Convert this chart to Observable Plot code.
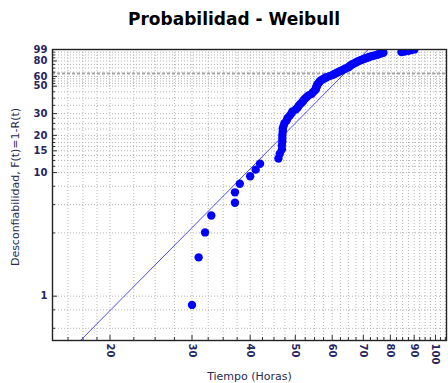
<!DOCTYPE html>
<html>
<head>
<meta charset="utf-8">
<script src="https://cdn.jsdelivr.net/npm/d3@7"></script>
<script src="https://cdn.jsdelivr.net/npm/@observablehq/plot@0.6"></script>
<style>
  html, body { margin: 0; padding: 0; background: #fff; }
  body { width: 448px; height: 383px; overflow: hidden; }
  #title { box-sizing: border-box; height: 40px; padding-top: 11px; padding-left: 20px; width: 448px;
    text-align: center; font-family: "DejaVu Sans", sans-serif; font-weight: bold; font-size: 17px; line-height: 17px; color: #000; }
  #chart svg { display: block; }
</style>
</head>
<body>
<div id="title">Probabilidad - Weibull</div>
<div id="chart"></div>
<script>
// Failure times (hours)
const tiempos = [30.0, 31.0, 32.0, 33.0, 37.1, 37.1, 38.0, 40.0, 41.1, 42.0,
  46.0, 46.3, 46.8, 46.8, 46.9, 46.9, 46.9, 47.0, 47.0, 47.2,
  47.4, 47.9, 48.1, 48.6, 49.0, 49.3, 50.1, 50.6, 50.9, 51.3,
  51.8, 52.1, 52.5, 52.9, 53.4, 54.2, 54.5, 54.9, 55.3, 55.4,
  55.5, 55.7, 55.8, 56.1, 56.4, 56.6, 57.2, 57.8, 58.3, 59.2,
  60.1, 60.7, 61.3, 61.9, 62.5, 63.2, 63.8, 64.4, 65.0, 65.4,
  65.7, 66.2, 66.7, 67.3, 67.8, 68.3, 69.0, 69.7, 70.4, 71.1,
  71.8, 72.5, 73.6, 74.7, 75.4, 76.2, 77.3, 84.5, 85.8, 87.5,
  88.8, 90.1];
// Unreliability F(t) in %
const desconf = [0.85, 2.06, 3.28, 4.49, 5.70, 6.92, 8.13, 9.34, 10.56, 11.77,
  12.99, 14.20, 15.41, 16.63, 17.84, 19.05, 20.27, 21.48, 22.69, 23.91,
  25.12, 26.33, 27.55, 28.76, 29.98, 31.19, 32.40, 33.62, 34.83, 36.04,
  37.26, 38.47, 39.68, 40.90, 42.11, 43.33, 44.54, 45.75, 46.97, 48.18,
  49.39, 50.61, 51.82, 53.03, 54.25, 55.46, 56.67, 57.89, 59.10, 60.32,
  61.53, 62.74, 63.96, 65.17, 66.38, 67.60, 68.81, 70.02, 71.24, 72.45,
  73.66, 74.88, 76.09, 77.31, 78.52, 79.73, 80.95, 82.16, 83.37, 84.59,
  85.80, 87.01, 88.23, 89.44, 90.66, 91.87, 93.08, 94.30, 95.51, 96.72,
  97.94, 99.15];
// Fitted Weibull line (end points where it meets the frame)
const ajusteT = [17.3, 71.7];
const ajusteF = [0.44, 99];
// Reference line F = 63.2 %
const lineaRef = [63.2];
// Tick values
const xMajor = [20, 30, 40, 50, 60, 70, 80, 90, 100];
const xMinor = [16.25, 17.5, 18.75, 22.5, 25, 27.5, 32.5, 35, 37.5, 42.5, 45, 47.5,
  52.5, 55, 57.5, 62.5, 65, 67.5, 72.5, 75, 77.5, 82.5, 85, 87.5, 92.5, 95, 97.5, 102.5, 105];
const yMajor = [1, 10, 15, 20, 30, 50, 60, 80, 99];
const yMinor = [0.55, 0.775, 3.25, 5.5, 7.75, 11.25, 12.5, 13.75, 16.25, 17.5, 18.75,
  22.5, 25, 27.5, 35, 40, 45, 52.5, 55, 57.5, 65, 70, 75, 84.75, 89.5, 94.25];

const puntos = tiempos.map((t, i) => ({t, F: desconf[i]}));
const ajuste = ajusteT.map((t, i) => ({t, F: ajusteF[i]}));

const W = 448, H = 343, mL = 52, mR = 2, mT = 9, mB = 43;
const pw = W - mL - mR, ph = H - mT - mB;
const navy = "#262660";

const chart = Plot.plot({
  width: W, height: H,
  marginLeft: mL, marginRight: mR, marginTop: mT, marginBottom: mB,
  x: {type: "log", domain: [15.05, 105.6], axis: null},
  y: {type: "log", domain: [0.438, 99], axis: null},
  style: {fontFamily: "DejaVu Sans, sans-serif", fontSize: "11px", color: navy, background: "white"},
  marks: [
    Plot.gridX(xMajor.concat(xMinor), {stroke: "#b5b5b5", strokeOpacity: 1, strokeDasharray: "1,2"}),
    Plot.gridY(yMajor.concat(yMinor), {stroke: "#b5b5b5", strokeOpacity: 1, strokeDasharray: "1,2"}),
    Plot.ruleY(lineaRef, {stroke: "#a6a6a6", strokeWidth: 2, strokeDasharray: "3,2"}),
    Plot.tickX(xMajor, {x: d => d, insetTop: ph - 5, stroke: "#333"}),
    Plot.tickX(xMinor, {x: d => d, insetTop: ph - 3, stroke: "#333"}),
    Plot.tickY(yMajor, {y: d => d, insetRight: pw - 5, stroke: "#333"}),
    Plot.tickY(yMinor, {y: d => d, insetRight: pw - 3, stroke: "#333"}),
    Plot.line(ajuste, {x: "t", y: "F", stroke: "#4a4aff", strokeWidth: 1, clip: true}),
    Plot.dot(puntos, {x: "t", y: "F", r: 4.2, fill: "#0000ff", stroke: "none", clip: true}),
    // y tick labels
    Plot.text(yMajor, {y: d => d, text: d => String(d), frameAnchor: "left", textAnchor: "end", dx: -5,
      fill: navy, fontWeight: "bold", fontSize: 10}),
    // x tick labels (rotated)
    Plot.text(xMajor, {x: d => d, text: d => String(d), frameAnchor: "bottom", textAnchor: "start",
      lineAnchor: "middle", rotate: 90, dy: 3, fill: navy, fontWeight: "bold", fontSize: 10}),
    // axis titles
    Plot.text(["Tiempo (Horas)"], {frameAnchor: "bottom", textAnchor: "middle", lineAnchor: "bottom", dy: 39,
      fill: "#2a2a50", fontSize: 11}),
    Plot.text(["Desconfiabilidad, F(t)=1-R(t)"], {frameAnchor: "left", textAnchor: "middle", lineAnchor: "top",
      rotate: -90, dx: -41, dy: -8, fill: "#2a2a50", fontSize: 11}),
    Plot.frame({stroke: "#222", strokeWidth: 1.4})
  ]
});
document.getElementById("chart").appendChild(chart);
</script>
</body>
</html>
